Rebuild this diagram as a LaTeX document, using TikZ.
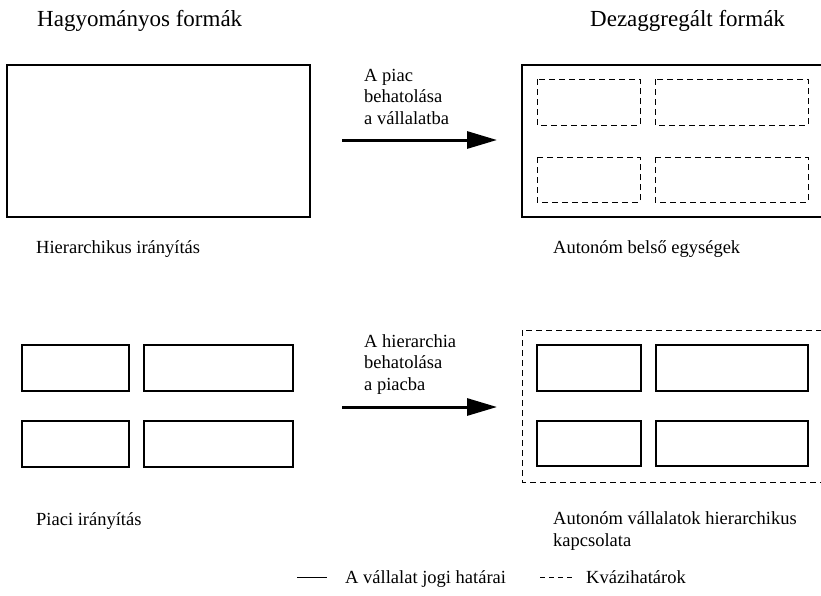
\documentclass[tikz,border=0pt]{standalone}
\usepackage{fontspec}
\setmainfont{Liberation Serif}
\usetikzlibrary{arrows.meta}
\begin{document}
\begin{tikzpicture}[x=1pt,y=-1pt,
  legal/.style={draw=black,line width=1.2pt},
  quasi/.style={draw=black,line width=1.0pt,dash pattern=on 6pt off 4pt},
  head/.style={anchor=base west,inner sep=0pt,font=\fontsize{23}{27}\selectfont},
  lbl/.style={anchor=base west,inner sep=0pt,align=left,font=\fontsize{18.5}{21.5}\selectfont},
  move/.style={line width=3pt,-{Triangle[length=30pt,width=17pt]}}]
\useasboundingbox[fill=white] (0,0) rectangle (821,595);

% headings
\node[head] (h1) at (37,26) {Hagyományos formák};
\node[head] (h2) at (590,26) {Dezaggregált formák};

% traditional hierarchy: one firm
\draw[legal] (7,65) rectangle (310,217);
\node[lbl] (t1) at (36,253) {Hierarchikus irányítás};

% disaggregated firm with internal autonomous units
\draw[legal] (522,65) rectangle (825,217);
\draw[quasi] (537,79) rectangle (640,125);
\draw[quasi] (655,79) rectangle (808,125);
\draw[quasi] (537,157) rectangle (640,202);
\draw[quasi] (655,157) rectangle (808,202);
\node[lbl] (t2) at (553,253) {Autonóm belső egységek};

% market: separate firms
\draw[legal] (22,345) rectangle (129,391);
\draw[legal] (144,345) rectangle (293,391);
\draw[legal] (22,421) rectangle (129,467);
\draw[legal] (144,421) rectangle (293,467);
\node[lbl] (t3) at (36,525) {Piaci irányítás};

% hierarchically linked autonomous firms
\draw[quasi] (522,330) rectangle (825,482);
\draw[legal] (537,345) rectangle (641,391);
\draw[legal] (656,345) rectangle (808,391);
\draw[legal] (537,421) rectangle (641,466);
\draw[legal] (656,421) rectangle (808,466);
\node[lbl] (t4) at (553,546) {Autonóm vállalatok hierarchikus\\kapcsolata};

% transitions
\coordinate (a1s) at (342,140);
\coordinate (a1e) at (497,140);
\draw[move] (a1s) -- (a1e);
\node[lbl] (m1) at (364,124) {A piac\\behatolása\\a vállalatba};

\coordinate (a2s) at (342,407);
\coordinate (a2e) at (497,407);
\draw[move] (a2s) -- (a2e);
\node[lbl] (m2) at (364,390) {A hierarchia\\behatolása\\a piacba};

% legend
\coordinate (l1a) at (297,577);
\coordinate (l1b) at (327,577);
\draw[line width=0.8pt] (l1a) -- (l1b);
\node[lbl] (k1) at (345,583) {A vállalat jogi határai};
\coordinate (l2a) at (540,577);
\coordinate (l2b) at (574,577);
\draw[line width=0.8pt,dash pattern=on 5pt off 4pt] (l2a) -- (l2b);
\node[lbl] (k2) at (586,583) {Kvázihatárok};
\end{tikzpicture}
\end{document}
